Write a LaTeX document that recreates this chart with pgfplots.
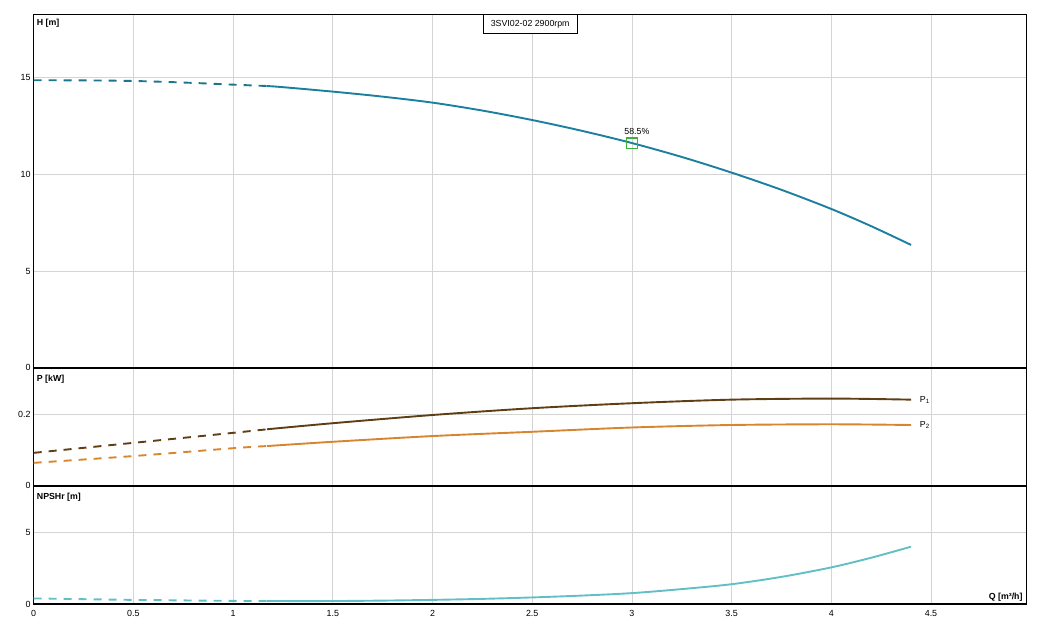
\documentclass[border=0pt]{standalone}
\usepackage{fontspec}
\setmainfont{Liberation Sans}
\usepackage{pgfplots}
\pgfplotsset{compat=1.18}
\definecolor{hcol}{HTML}{1B7FA0}
\definecolor{hdash}{HTML}{1E7490}
\definecolor{pone}{HTML}{603E14}
\definecolor{ptwo}{HTML}{D6862E}
\definecolor{ncol}{HTML}{62BFC6}
\definecolor{effc}{HTML}{3CB43C}
\definecolor{gridc}{HTML}{D4D4D4}
\pgfplotsset{
  base/.style={
    scale only axis, width=993bp, xmin=0, xmax=4.98,
    xtick={0,0.5,1,1.5,2,2.5,3,3.5,4,4.5},
    grid=major, grid style={color=gridc, line width=0.7bp},
    major tick length=0pt,
    axis line style={line width=0.7bp},
    tick label style={font=\fontsize{8.9bp}{10bp}\selectfont},
    /pgf/number format/assume math mode=true,
    xticklabel style={yshift=-2.5bp, text height=6.4bp, text depth=0pt},
    anchor=south west, clip=false,
  },
  dsh/.style={line width=1.9bp, dash pattern=on 8bp off 7bp},
  sld/.style={line width=1.9bp},
}
\begin{document}
\fontsize{8.8bp}{10bp}\selectfont
\begin{tikzpicture}[x=1bp,y=1bp]
\path[use as bounding box] (0,0) rectangle (1043,631);
% ---------- H panel ----------
\begin{axis}[base, name=top, at={(33.7bp,263.3bp)}, height=353.4bp,
  ymin=0, ymax=18.28, ytick={0,5,10,15}, xticklabels={}]
\addplot[hdash, dsh, smooth] coordinates {(0,14.87)(0.25,14.86)(0.5,14.83)(0.75,14.75)(1.0,14.64)(1.17,14.57)};
\addplot[hcol, sld, smooth] coordinates {(1.17,14.57)(1.25,14.51)(1.5,14.28)(1.75,14.02)(2.0,13.71)(2.25,13.30)(2.5,12.81)(2.75,12.25)(3.0,11.62)(3.25,10.90)(3.5,10.09)(3.75,9.20)(4.0,8.21)(4.2,7.32)(4.4,6.35)};
\addplot[only marks, mark=square, mark size=5.3bp, mark options={draw=effc, line width=1.2bp}] coordinates {(3.0,11.61)};
\node[anchor=south, xshift=5bp, yshift=5.5bp] at (axis cs:3.0,11.61) {58.5\%};
\node[anchor=north west, font=\bfseries\fontsize{8.8bp}{10bp}\selectfont, inner sep=0pt, xshift=3bp, yshift=-4.5bp] at (rel axis cs:0,1) {H [m]};
\node[anchor=north, draw=black, line width=0.7bp, fill=white, inner xsep=7.5bp, minimum height=19bp] at (rel axis cs:0.5,1) {3SVI02-02 2900rpm};
\end{axis}
% ---------- P panel ----------
\begin{axis}[base, name=mid, at={(33.7bp,145.3bp)}, height=118bp,
  ymin=0, ymax=0.3305, ytick={0,0.2}, xticklabels={}]
\addplot[pone, dsh, smooth] coordinates {(0,0.092)(0.5,0.120)(1.0,0.148)(1.17,0.158)};
\addplot[pone, sld, smooth] coordinates {(1.17,0.158)(1.5,0.175)(2.0,0.198)(2.5,0.217)(3.0,0.231)(3.5,0.241)(4.0,0.244)(4.4,0.241)}
  node[anchor=west, pos=1, xshift=5bp, text=black] {P\textsubscript{1}};
\addplot[ptwo, dsh, smooth] coordinates {(0,0.064)(0.5,0.083)(1.0,0.105)(1.17,0.111)};
\addplot[ptwo, sld, smooth] coordinates {(1.17,0.111)(1.5,0.123)(2.0,0.139)(2.5,0.151)(3.0,0.163)(3.5,0.170)(4.0,0.172)(4.4,0.170)}
  node[anchor=west, pos=1, xshift=5bp, text=black] {P\textsubscript{2}};
\node[anchor=north west, font=\bfseries\fontsize{8.8bp}{10bp}\selectfont, inner sep=0pt, xshift=3bp, yshift=-7bp] at (rel axis cs:0,1) {P [kW]};
\end{axis}
% ---------- NPSH panel ----------
\begin{axis}[base, name=bot, at={(33.7bp,26.8bp)}, height=118.5bp,
  ymin=0, ymax=8.24, ytick={0,5}]
\addplot[ncol, dsh, smooth] coordinates {(0,0.40)(0.5,0.30)(1.0,0.23)(1.17,0.22)};
\addplot[ncol, sld, smooth] coordinates {(1.17,0.22)(1.5,0.22)(1.75,0.25)(2.0,0.30)(2.25,0.37)(2.5,0.47)(2.75,0.60)(3.0,0.77)(3.25,1.05)(3.5,1.39)(3.75,1.90)(4.0,2.56)(4.2,3.23)(4.4,4.0)};
\node[anchor=north west, font=\bfseries\fontsize{8.8bp}{10bp}\selectfont, inner sep=0pt, xshift=3bp, yshift=-7bp] at (rel axis cs:0,1) {NPSHr [m]};
\node[anchor=south east, font=\bfseries\fontsize{8.8bp}{10bp}\selectfont, inner sep=0pt, xshift=-4bp, yshift=3bp] at (rel axis cs:1,0) {Q [m³/h]};
\end{axis}
\draw[line width=2bp] (top.south west) -- (top.south east);
\draw[line width=2bp] (mid.south west) -- (mid.south east);
\draw[line width=2bp] (bot.south west) -- (bot.south east);
\end{tikzpicture}
\end{document}
